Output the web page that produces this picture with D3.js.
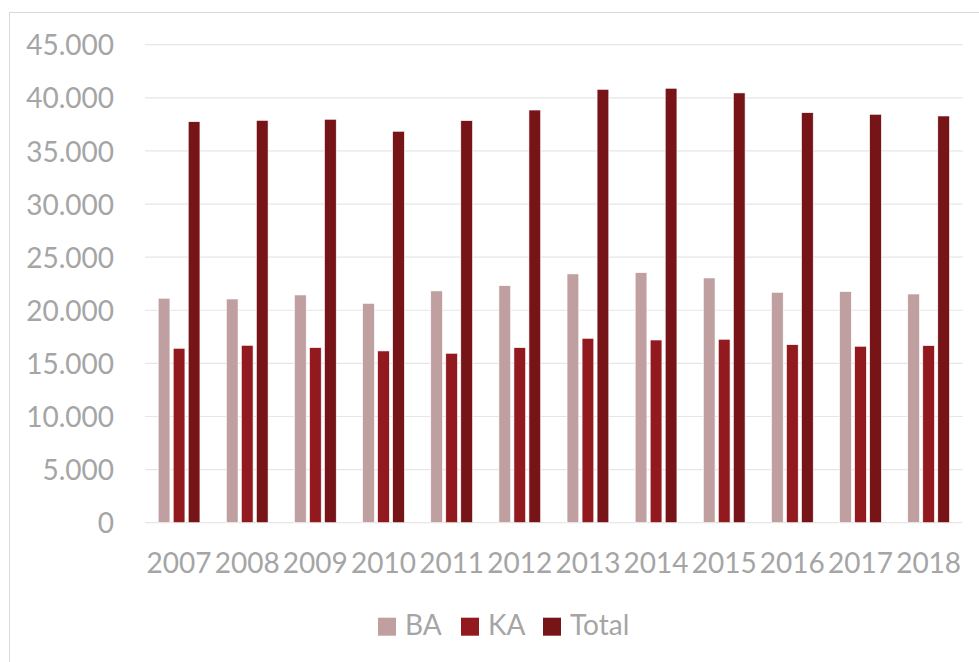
<!DOCTYPE html>
<html>
<head>
<meta charset="utf-8">
<script src="https://cdn.jsdelivr.net/npm/d3@7"></script>
<style>
  body { margin: 0; background: #fff; }
  svg { display: block; font-family: Lato, "Open Sans", sans-serif; }
</style>
</head>
<body>
<div id="chart"></div>
<script>
// data
const years = ["2007", "2008", "2009", "2010", "2011", "2012", "2013", "2014", "2015", "2016", "2017", "2018"];
const seriesNames = ["BA", "KA", "Total"];
const baValues = [21130, 21060, 21440, 20650, 21820, 22310, 23420, 23540, 23040, 21690, 21750, 21530];
const kaValues = [16420, 16700, 16480, 16170, 15950, 16480, 17360, 17200, 17270, 16760, 16610, 16670];
const totalValues = [37750, 37880, 37980, 36850, 37850, 38850, 40800, 40900, 40460, 38600, 38450, 38290];
const yTicks = [0, 5000, 10000, 15000, 20000, 25000, 30000, 35000, 40000, 45000];

const colors = ["#C09FA0", "#921A1F", "#761418"];
const textColor = "#A5A5A5";
const fontSize = 28;

const width = 979, height = 662;
const margin = { top: 44.7, right: 16.3, bottom: 139.3, left: 145 };

const svg = d3.select("#chart").append("svg")
    .attr("width", width)
    .attr("height", height);

// outer chart border
svg.append("rect")
    .attr("x", 9.5).attr("y", 12.5)
    .attr("width", 1000).attr("height", 700)
    .attr("fill", "none")
    .attr("stroke", "#D9D9D9")
    .attr("stroke-width", 1);

const x = d3.scaleBand()
    .domain(years)
    .range([margin.left, width - margin.right])
    .padding(0);

const groupPad = 13.2;
const xInner = d3.scaleBand()
    .domain(seriesNames)
    .range([groupPad, x.bandwidth() - groupPad])
    .paddingInner(0.22)
    .paddingOuter(0);

const y = d3.scaleLinear()
    .domain([0, 45000])
    .range([height - margin.bottom, margin.top]);

// gridlines
svg.append("g")
    .selectAll("line")
    .data(yTicks)
    .join("line")
    .attr("x1", margin.left)
    .attr("x2", width - margin.right)
    .attr("y1", d => y(d))
    .attr("y2", d => y(d))
    .attr("stroke", "#E6E6E6")
    .attr("stroke-width", 1.2);

// y axis labels
const fmt = d => d3.format(",")(d).replace(/,/g, ".");
const yAxis = svg.append("g")
    .attr("transform", `translate(${114},0)`)
    .call(d3.axisLeft(y).tickValues(yTicks).tickFormat(fmt).tickSize(0).tickPadding(0));
yAxis.select(".domain").remove();
yAxis.selectAll("text")
    .attr("fill", textColor)
    .attr("font-size", fontSize)
    .attr("font-family", "Lato, 'Open Sans', sans-serif")
    .attr("dy", "0.36em");

// bars
const seriesData = [baValues, kaValues, totalValues];
const groups = svg.append("g")
    .selectAll("g")
    .data(years)
    .join("g")
    .attr("transform", d => `translate(${x(d)},0)`);

groups.selectAll("rect")
    .data((d, i) => seriesNames.map((s, j) => ({ s, v: seriesData[j][i], c: colors[j] })))
    .join("rect")
    .attr("x", d => xInner(d.s))
    .attr("width", xInner.bandwidth())
    .attr("y", d => y(d.v))
    .attr("height", d => y(0) - y(d.v))
    .attr("fill", d => d.c)
    .attr("stroke", "#fff")
    .attr("stroke-width", 0.6);

// x axis labels
const xAxis = svg.append("g")
    .attr("transform", `translate(0,${y(0)})`)
    .call(d3.axisBottom(x).tickSize(0).tickPadding(0));
xAxis.select(".domain").remove();
xAxis.selectAll("text")
    .attr("fill", textColor)
    .attr("font-size", fontSize)
    .attr("font-family", "Lato, 'Open Sans', sans-serif")
    .attr("dy", null)
    .attr("y", 50.8);

// legend
const legendX = [378, 461, 543];
const legend = svg.append("g")
    .selectAll("g")
    .data(seriesNames)
    .join("g")
    .attr("transform", (d, i) => `translate(${legendX[i]},617.7)`);

legend.append("rect")
    .attr("width", 18)
    .attr("height", 18)
    .attr("fill", (d, i) => colors[i]);

legend.append("text")
    .attr("x", 27)
    .attr("y", 17.5)
    .attr("fill", textColor)
    .attr("font-size", fontSize)
    .text(d => d);
</script>
</body>
</html>
